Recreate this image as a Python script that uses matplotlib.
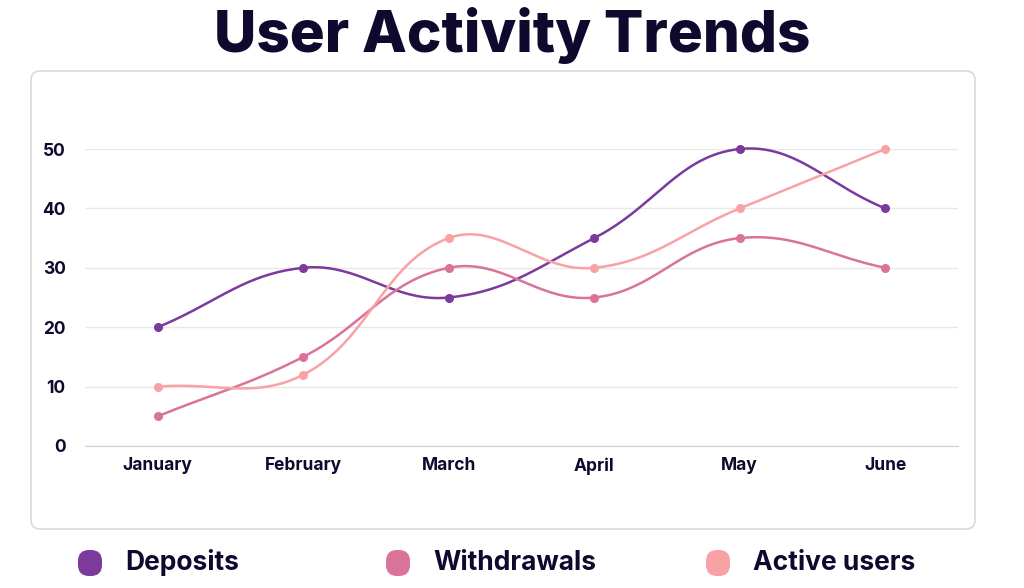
import numpy as np
import matplotlib.pyplot as plt
from matplotlib.patches import FancyBboxPatch

months = ['January', 'February', 'March', 'April', 'May', 'June']
deposits = [20, 30, 25, 35, 50, 40]
withdrawals = [5, 15, 30, 25, 35, 30]
active_users = [10, 12, 35, 30, 40, 50]

series = [('Deposits', deposits, '#7b3a9c'),
          ('Withdrawals', withdrawals, '#d97399'),
          ('Active users', active_users, '#f8a2a5')]

ink = '#0e0a2e'
plt.rcParams['font.family'] = ['Inter', 'DejaVu Sans']


def tension_curve(y, tension=0.4, sx=145.8, sy=5.94, n=40):
    # bezier spline with control points like chart.js (tension 0.4), in pixel space
    p = np.column_stack([np.arange(len(y)) * sx, np.asarray(y, float) * sy])
    k = len(p)
    cin, cout = np.zeros_like(p), np.zeros_like(p)
    for i in range(k):
        prev = p[max(i - 1, 0)]
        nxt = p[min(i + 1, k - 1)]
        d01 = np.hypot(*(p[i] - prev))
        d12 = np.hypot(*(nxt - p[i]))
        tot = d01 + d12
        fa = tension * d01 / tot
        fb = tension * d12 / tot
        cin[i] = p[i] - fa * (nxt - prev)
        cout[i] = p[i] + fb * (nxt - prev)
    pts = []
    for i in range(k - 1):
        t = np.linspace(0, 1, n)[:, None]
        b = ((1 - t) ** 3 * p[i] + 3 * (1 - t) ** 2 * t * cout[i]
             + 3 * (1 - t) * t ** 2 * cin[i + 1] + t ** 3 * p[i + 1])
        pts.append(b)
    pts = np.vstack(pts)
    return pts[:, 0] / sx, pts[:, 1] / sy


fig = plt.figure(figsize=(10.24, 5.88), dpi=100)
W, H = 1024, 588

# background panel
bg = fig.add_axes([0, 0, 1, 1])
bg.set_xlim(0, W)
bg.set_ylim(H, 0)
bg.axis('off')
bg.add_patch(FancyBboxPatch((31, 71), 944, 458, boxstyle='round,pad=0,rounding_size=9',
                            facecolor='white', edgecolor='#dcdcdc', linewidth=1.3))

fig.text(0.5, 1 - 36 / H, 'User Activity Trends', ha='center', va='center',
         fontsize=42, fontweight='heavy', color=ink)

# legend
lx = [90, 398, 718]
for (name, _, col), x in zip(series, lx):
    bg.add_patch(FancyBboxPatch((x - 12, 550), 24, 26, boxstyle='round,pad=0,rounding_size=11',
                                facecolor=col, edgecolor='none'))
    bg.text(x + 35, 563, name, ha='left', va='center', fontsize=19,
            fontweight='bold', color=ink)

ax = fig.add_axes([85 / W, 1 - 446 / H, (958 - 85) / W, (446 - 149) / H])
ax.set_xlim(-0.5, 5.5)
ax.set_ylim(0, 50)
ax.set_facecolor('none')
x = np.arange(len(months))
for name, vals, col in series:
    cx, cy = tension_curve(vals)
    ax.plot(cx, cy, color=col, lw=1.8, clip_on=False, zorder=3)
    ax.plot(x, vals, 'o', color=col, ms=5.5, clip_on=False, zorder=4)

ax.set_yticks([0, 10, 20, 30, 40, 50])
ax.set_xticks(x)
ax.set_xticklabels(months)
ax.grid(axis='y', color='#e8e8e8', lw=1)
ax.set_axisbelow(True)
for s in ['top', 'right', 'left']:
    ax.spines[s].set_visible(False)
ax.spines['bottom'].set_color('#cfcfcf')
ax.tick_params(length=0, labelsize=12.5, labelcolor=ink)
ax.tick_params(axis='y', pad=14)
ax.tick_params(axis='x', pad=8)
for lab in ax.get_xticklabels() + ax.get_yticklabels():
    lab.set_fontweight('bold')

fig.savefig('out.png', dpi=100)
